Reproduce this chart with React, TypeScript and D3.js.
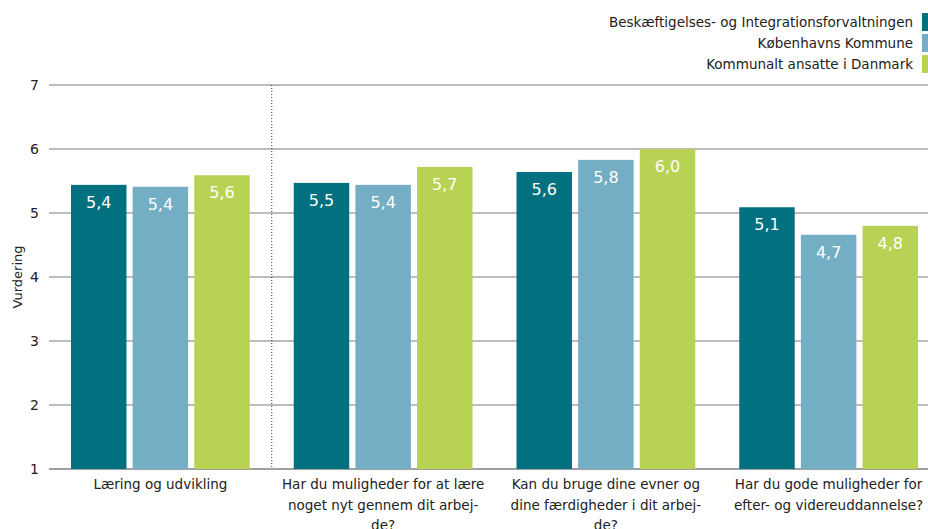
import React from "react";
import * as d3 from "d3";

const categories = [
  "Læring og udvikling",
  "Har du muligheder for at lære noget nyt gennem dit arbejde?",
  "Kan du bruge dine evner og dine færdigheder i dit arbejde?",
  "Har du gode muligheder for efter- og videreuddannelse?",
];
const categoryLines = [
  ["Læring og udvikling"],
  ["Har du muligheder for at lære", "noget nyt gennem dit arbej-", "de?"],
  ["Kan du bruge dine evner og", "dine færdigheder i dit arbej-", "de?"],
  ["Har du gode muligheder for", "efter- og videreuddannelse?"],
];
const series = [
  "Beskæftigelses- og Integrationsforvaltningen",
  "Københavns Kommune",
  "Kommunalt ansatte i Danmark",
];
const colors = ["#02707F", "#74AEC4", "#B8D254"];
const valuesBIF = [5.44, 5.47, 5.64, 5.09];
const valuesKK = [5.41, 5.44, 5.83, 4.66];
const valuesDK = [5.59, 5.72, 6.0, 4.8];
const yTicks = [1, 2, 3, 4, 5, 6, 7];
const yLabel = "Vurdering";

const W = 928;
const H = 529;
const FONT = "'DejaVu Sans', Verdana, sans-serif";

export default function App() {
  const allValues = [valuesBIF, valuesKK, valuesDK];
  const y = d3.scaleLinear().domain([1, 7]).range([469, 85]);
  const x0 = d3.scaleBand<string>().domain(categories).range([49, 940]).padding(0);
  const x1 = d3
    .scaleBand<string>()
    .domain(series)
    .range([22, x0.bandwidth() - 22])
    .paddingInner(0.1)
    .paddingOuter(0);
  const fmt = (v: number) => d3.format(".1f")(v).replace(".", ",");

  return (
    <svg
      width={W}
      height={H}
      style={{ position: "absolute", left: 0, top: 0, overflow: "hidden" }}
      fontFamily={FONT}
    >
      <rect x={0} y={0} width={W} height={H} fill="#fff" />
      {yTicks.map((t) => (
        <g key={t}>
          <line
            x1={49}
            x2={W}
            y1={y(t)}
            y2={y(t)}
            stroke={t === 1 ? "#808080" : "#A6A6A6"}
            strokeWidth={1.5}
          />
          <text x={39} y={y(t)} dy="0.35em" textAnchor="end" fontSize={14} fill="#222">
            {t}
          </text>
        </g>
      ))}
      <text
        transform={`translate(22,${(y(1) + y(7)) / 2})`}
        textAnchor="middle"
        fontSize={13}
        fill="#222"
      >
        <tspan transform="rotate(-90)" />
      </text>
      <text
        transform={`translate(22,${(y(1) + y(7)) / 2}) rotate(-90)`}
        textAnchor="middle"
        fontSize={13}
        fill="#222"
      >
        {yLabel}
      </text>
      <line
        x1={x0(categories[1])!}
        x2={x0(categories[1])!}
        y1={y(7)}
        y2={y(1)}
        stroke="#333"
        strokeWidth={1}
        strokeDasharray="1,2"
      />
      {categories.map((c, ci) => (
        <g key={c} transform={`translate(${x0(c)},0)`}>
          {series.map((s, si) => {
            const v = allValues[si][ci];
            const bx = x1(s)!;
            return (
              <g key={s}>
                <rect
                  x={bx}
                  y={y(v)}
                  width={x1.bandwidth()}
                  height={y(1) - y(v)}
                  fill={colors[si]}
                />
                <text
                  x={bx + x1.bandwidth() / 2}
                  y={y(v) + 23}
                  textAnchor="middle"
                  fontSize={16}
                  fill="#fff"
                >
                  {fmt(v)}
                </text>
              </g>
            );
          })}
          {categoryLines[ci].map((ln, li) => (
            <text
              key={li}
              x={x0.bandwidth() / 2}
              y={489 + li * 20.5}
              textAnchor="middle"
              fontSize={13.5}
              fill="#222"
            >
              {ln}
            </text>
          ))}
        </g>
      ))}
      {series.map((s, si) => (
        <g key={s} transform={`translate(0,${13 + si * 21})`}>
          <rect x={922} y={0} width={14} height={18} fill={colors[si]} />
          <text x={913} y={9} dy="0.35em" textAnchor="end" fontSize={13.5} fill="#222">
            {s}
          </text>
        </g>
      ))}
    </svg>
  );
}
